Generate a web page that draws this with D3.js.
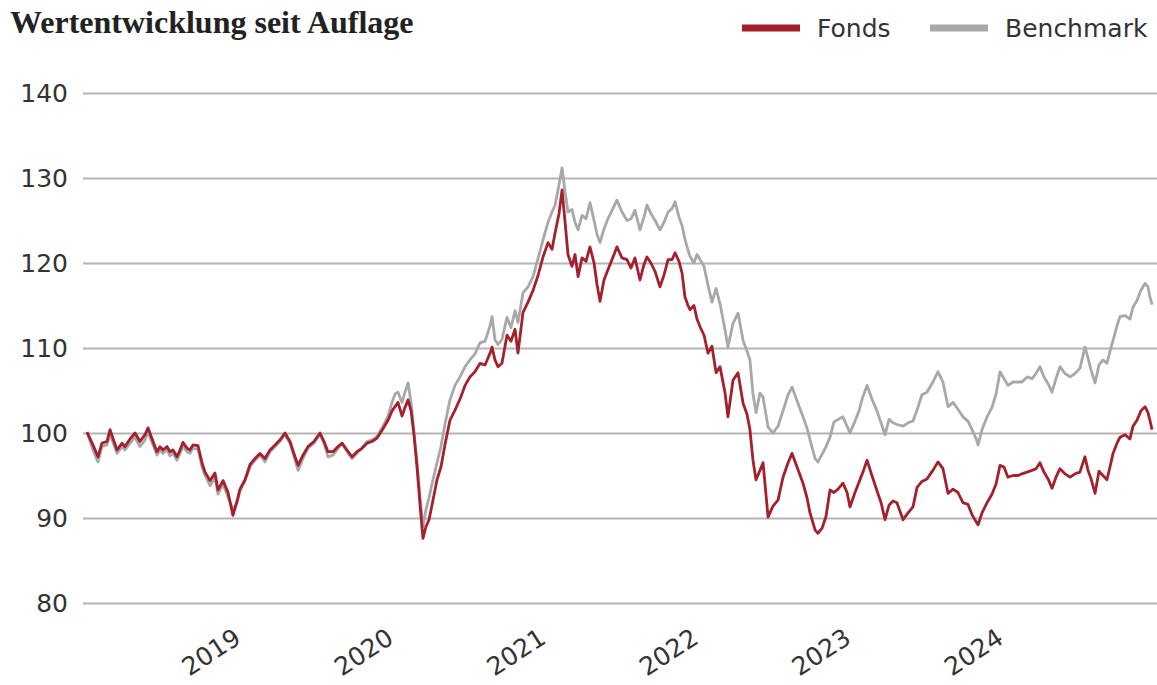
<!DOCTYPE html>
<head>
    <meta charset="utf-8">
    <title>Wertentwicklung</title>
    <script type="text/javascript" src="https://cdn.jsdelivr.net/npm/d3@7"></script>
    <style>
        body { margin: 0; background: #fff; }
    </style>
</head>
<body>
<div id="container"></div>
<script>
    //-----------------------------DATA------------------------------//
    // time in decimal years, values indexed to 100 at launch
    const years = [
        2018.023, 2018.062, 2018.095, 2018.121, 2018.154, 2018.174, 2018.193, 2018.220, 2018.252, 2018.272,
        2018.305, 2018.338, 2018.370, 2018.403, 2018.423, 2018.456, 2018.482, 2018.502, 2018.521, 2018.548,
        2018.567, 2018.587, 2018.613, 2018.633, 2018.652, 2018.679, 2018.698, 2018.718, 2018.751, 2018.777,
        2018.797, 2018.830, 2018.862, 2018.882, 2018.915, 2018.948, 2018.980, 2019.007, 2019.026, 2019.059,
        2019.092, 2019.125, 2019.157, 2019.190, 2019.223, 2019.256, 2019.289, 2019.321, 2019.354, 2019.387,
        2019.407, 2019.439, 2019.472, 2019.511, 2019.551, 2019.577, 2019.603, 2019.636, 2019.669, 2019.695,
        2019.728, 2019.761, 2019.793, 2019.826, 2019.859, 2019.892, 2019.925, 2019.964, 2019.997, 2020.023,
        2020.043, 2020.062, 2020.089, 2020.108, 2020.128, 2020.148, 2020.167, 2020.187, 2020.207, 2020.226,
        2020.246, 2020.266, 2020.285, 2020.318, 2020.344, 2020.370, 2020.403, 2020.436, 2020.469, 2020.502,
        2020.534, 2020.567, 2020.600, 2020.633, 2020.666, 2020.679, 2020.698, 2020.718, 2020.744, 2020.777,
        2020.803, 2020.830, 2020.849, 2020.882, 2020.915, 2020.948, 2020.980, 2021.013, 2021.046, 2021.072,
        2021.092, 2021.118, 2021.138, 2021.157, 2021.177, 2021.203, 2021.223, 2021.243, 2021.269, 2021.295,
        2021.321, 2021.348, 2021.367, 2021.387, 2021.413, 2021.439, 2021.466, 2021.498, 2021.531, 2021.564,
        2021.590, 2021.616, 2021.649, 2021.675, 2021.695, 2021.721, 2021.748, 2021.780, 2021.807, 2021.833,
        2021.859, 2021.879, 2021.905, 2021.925, 2021.944, 2021.964, 2021.977, 2022.003, 2022.023, 2022.043,
        2022.069, 2022.095, 2022.121, 2022.148, 2022.174, 2022.207, 2022.226, 2022.259, 2022.292, 2022.325,
        2022.351, 2022.370, 2022.390, 2022.410, 2022.436, 2022.456, 2022.489, 2022.521, 2022.554, 2022.587,
        2022.620, 2022.646, 2022.679, 2022.718, 2022.744, 2022.764, 2022.797, 2022.816, 2022.843, 2022.869,
        2022.895, 2022.921, 2022.948, 2022.980, 2023.007, 2023.026, 2023.059, 2023.085, 2023.111, 2023.138,
        2023.170, 2023.203, 2023.230, 2023.256, 2023.282, 2023.308, 2023.334, 2023.374, 2023.407, 2023.439,
        2023.466, 2023.498, 2023.531, 2023.570, 2023.603, 2023.636, 2023.669, 2023.702, 2023.734, 2023.767,
        2023.800, 2023.826, 2023.852, 2023.866, 2023.892, 2023.925, 2023.957, 2023.984, 2024.010, 2024.036,
        2024.062, 2024.095, 2024.128, 2024.154, 2024.187, 2024.220, 2024.246, 2024.272, 2024.298, 2024.325,
        2024.351, 2024.377, 2024.403, 2024.436, 2024.469, 2024.502, 2024.534, 2024.567, 2024.587, 2024.607,
        2024.633, 2024.659, 2024.685, 2024.711, 2024.731, 2024.751, 2024.777, 2024.797, 2024.830, 2024.862,
        2024.882, 2024.908, 2024.934, 2024.961, 2024.980, 2024.993, 2025.007
    ];

    const fonds = [
        100.1, 98.6, 97.2, 98.8, 99.0, 100.4, 99.4, 98.0, 98.8, 98.4,
        99.3, 100.0, 99.0, 99.8, 100.6, 99.0, 97.8, 98.4, 98.0, 98.4,
        97.8, 98.0, 97.2, 98.0, 98.9, 98.2, 98.0, 98.6, 98.5, 96.5,
        95.4, 94.4, 95.3, 93.3, 94.4, 93.0, 90.3, 92.0, 93.4, 94.5,
        96.3, 97.0, 97.6, 97.0, 98.0, 98.6, 99.2, 100.0, 99.0, 97.2,
        96.2, 97.4, 98.4, 99.0, 100.0, 99.0, 97.8, 97.8, 98.4, 98.8,
        98.0, 97.2, 97.8, 98.2, 98.8, 99.0, 99.4, 100.5, 101.5, 102.6,
        103.1, 103.6, 102.0, 103.0, 103.9, 102.6, 99.8, 96.0, 91.5, 87.6,
        89.0, 89.8, 91.5, 94.5, 96.0, 98.6, 101.5, 102.7, 104.0, 105.6,
        106.6, 107.2, 108.2, 108.0, 109.4, 110.1, 108.6, 107.8, 108.2, 111.5,
        110.8, 112.2, 109.4, 114.2, 115.4, 116.8, 118.5, 120.7, 122.4, 121.6,
        123.5, 125.8, 128.6, 125.0, 121.0, 119.6, 121.0, 118.4, 120.6, 120.2,
        121.9, 120.0, 117.5, 115.5, 118.0, 119.2, 120.4, 121.9, 120.6, 120.4,
        119.4, 120.6, 118.0, 119.8, 120.7, 120.0, 119.0, 117.2, 118.6, 120.4,
        120.4, 121.2, 120.2, 118.8, 116.0, 115.0, 114.5, 115.0, 113.4, 112.5,
        111.5, 109.4, 110.2, 107.1, 107.8, 104.7, 101.9, 106.2, 107.1, 103.5,
        102.2, 100.4, 96.8, 94.5, 95.6, 96.5, 90.1, 91.4, 92.1, 94.8,
        96.5, 97.6, 96.0, 94.1, 92.4, 90.6, 88.6, 88.2, 88.8, 90.2,
        93.3, 93.0, 93.4, 94.1, 93.0, 91.3, 93.0, 94.2, 95.4, 96.8,
        95.0, 93.2, 91.8, 89.8, 91.5, 92.0, 91.8, 89.8, 90.6, 91.3,
        93.6, 94.3, 94.6, 95.6, 96.6, 95.8, 92.9, 93.4, 93.0, 91.8,
        91.6, 90.4, 89.6, 89.2, 90.6, 91.8, 92.8, 94.0, 96.2, 96.0,
        94.8, 95.0, 95.0, 95.2, 95.4, 95.6, 95.8, 96.5, 95.4, 94.6,
        93.5, 94.8, 95.8, 95.2, 94.8, 95.2, 95.4, 97.2, 95.6, 94.6,
        92.9, 95.5, 95.0, 94.5, 96.0, 97.6, 98.8, 99.5, 99.8, 99.3,
        100.8, 101.5, 102.6, 103.1, 102.4, 101.5, 100.4
    ];

    const benchmark = [
        100.1, 98.0, 96.6, 98.4, 98.6, 99.8, 98.9, 97.6, 98.4, 98.0,
        98.8, 99.5, 98.4, 99.2, 100.1, 98.6, 97.4, 98.0, 97.6, 98.0,
        97.3, 97.6, 96.8, 97.6, 98.4, 97.8, 97.6, 98.2, 98.1, 96.0,
        95.0, 93.8, 94.8, 92.8, 94.0, 92.4, 91.0, 91.8, 93.2, 94.4,
        96.0, 96.8, 97.4, 96.6, 97.8, 98.4, 99.0, 99.8, 98.8, 96.8,
        95.6, 97.0, 98.2, 98.8, 99.8, 98.8, 97.2, 97.4, 98.2, 98.8,
        97.8, 97.0, 97.6, 98.2, 99.0, 99.2, 99.6, 100.8, 102.0, 103.6,
        104.6, 104.8, 103.6, 104.8, 105.9, 103.6, 100.2, 96.5, 92.5, 89.0,
        91.0, 92.4, 94.0, 96.5, 98.4, 101.0, 103.9, 105.6, 106.6, 107.8,
        108.6, 109.3, 110.6, 110.8, 112.6, 113.7, 111.0, 110.4, 111.0, 113.6,
        112.4, 114.4, 113.0, 116.5, 117.2, 118.4, 120.5, 122.7, 124.8, 126.0,
        126.8, 129.2, 131.2, 128.5, 126.0, 126.3, 124.8, 123.9, 125.6, 125.2,
        127.1, 125.0, 123.4, 122.4, 124.0, 125.2, 126.2, 127.4, 126.0, 125.0,
        125.2, 126.2, 123.9, 125.4, 126.8, 125.8, 125.0, 123.9, 124.8, 126.0,
        126.4, 127.2, 125.4, 124.4, 122.8, 121.5, 120.8, 120.0, 121.0, 120.4,
        119.6, 117.4, 115.4, 117.0, 115.2, 112.1, 110.1, 112.9, 114.1, 110.9,
        109.6, 108.6, 104.6, 102.4, 104.7, 104.2, 100.7, 100.0, 100.8, 102.6,
        104.5, 105.4, 103.8, 101.9, 100.6, 99.2, 97.0, 96.6, 97.5, 98.4,
        99.5, 101.3, 101.6, 101.9, 100.8, 100.0, 101.4, 102.6, 104.3, 105.6,
        104.0, 102.6, 101.2, 99.8, 101.6, 101.2, 101.0, 100.8, 101.2, 101.4,
        102.7, 104.5, 104.8, 106.0, 107.2, 106.0, 103.1, 103.6, 102.8, 101.9,
        101.4, 100.4, 99.4, 98.6, 100.4, 101.9, 103.0, 104.6, 107.2, 106.4,
        105.6, 106.0, 106.0, 106.0, 106.6, 106.4, 107.0, 107.8, 106.6, 105.8,
        104.8, 106.4, 107.8, 107.0, 106.6, 107.0, 107.6, 110.1, 108.8, 107.4,
        105.9, 108.0, 108.6, 108.2, 109.6, 110.9, 112.6, 113.7, 113.8, 113.4,
        114.8, 115.6, 116.8, 117.6, 117.2, 116.0, 115.1
    ];

    const yTicks = [80, 90, 100, 110, 120, 130, 140];
    const xTicks = [2019, 2020, 2021, 2022, 2023, 2024];
    const seriesNames = ["Fonds", "Benchmark"];

    //-----------------------------SVG-------------------------------//
    const width = 1157;
    const height = 685;
    const red = "#a3202c";
    const grey = "#a8a8a8";
    const textCol = "#333333";
    const font = "'DejaVu Sans', sans-serif";

    const svg = d3.select("div#container").append("svg")
        .attr("width", width)
        .attr("height", height);

    //----------------------------SCALES-----------------------------//
    const xScale = d3.scaleLinear().domain([2018, 2025]).range([83.5, 1151]);
    const yScale = d3.scaleLinear().domain([80, 140]).range([603, 93]);

    //-----------------------------AXES------------------------------//
    // gridlines + labels: left axis anchored on the right edge
    const yAxis = svg.append("g")
        .attr("transform", "translate(" + width + ",0)")
        .call(d3.axisLeft(yScale).tickValues(yTicks).tickSize(width - 83).tickPadding(15));
    yAxis.select(".domain").remove();
    yAxis.selectAll(".tick line")
        .attr("stroke", "#b4b4b4")
        .attr("stroke-width", 2.2);
    yAxis.selectAll(".tick text")
        .attr("fill", textCol)
        .style("font-family", font)
        .style("font-size", "25px");

    const xAxis = svg.append("g")
        .attr("transform", "translate(0,603)")
        .call(d3.axisBottom(xScale).tickValues(xTicks).tickFormat(d3.format("d")).tickSize(0));
    xAxis.select(".domain").remove();
    xAxis.selectAll(".tick text")
        .attr("x", 6)
        .attr("y", 39)
        .attr("dy", 0)
        .attr("text-anchor", "end")
        .attr("transform", "rotate(-33,6,39)")
        .attr("fill", textCol)
        .style("font-family", font)
        .style("font-size", "25px");

    //----------------------------LINES------------------------------//
    const line = d3.line()
        .x(function(d) { return xScale(d.t); })
        .y(function(d) { return yScale(d.v); });

    const benchData = years.map(function(t, i) { return {t: t, v: benchmark[i]}; });
    const fondsData = years.map(function(t, i) { return {t: t, v: fonds[i]}; });

    svg.append("path")
        .datum(benchData)
        .attr("fill", "none")
        .attr("stroke", grey)
        .attr("stroke-width", 2.8)
        .attr("stroke-linejoin", "round")
        .attr("d", line);

    svg.append("path")
        .datum(fondsData)
        .attr("fill", "none")
        .attr("stroke", red)
        .attr("stroke-width", 2.8)
        .attr("stroke-linejoin", "round")
        .attr("d", line);

    //-----------------------------TITLE------------------------------//
    svg.append("text")
        .attr("x", 10)
        .attr("y", 33)
        .attr("fill", "#222")
        .style("font-family", "'Liberation Serif', serif")
        .style("font-weight", "bold")
        .style("font-size", "32px")
        .text("Wertentwicklung seit Auflage");

    //-----------------------------LEGEND-----------------------------//
    const legend = svg.append("g");
    const legendX = [742, 930];
    const legendCol = [red, grey];
    seriesNames.forEach(function(name, i) {
        legend.append("line")
            .attr("x1", legendX[i]).attr("x2", legendX[i] + 58)
            .attr("y1", 28).attr("y2", 28)
            .attr("stroke", legendCol[i])
            .attr("stroke-width", 7);
        legend.append("text")
            .attr("x", legendX[i] + 75)
            .attr("y", 37)
            .attr("fill", textCol)
            .style("font-family", font)
            .style("font-size", "25px")
            .text(name);
    });
</script>
</body>
